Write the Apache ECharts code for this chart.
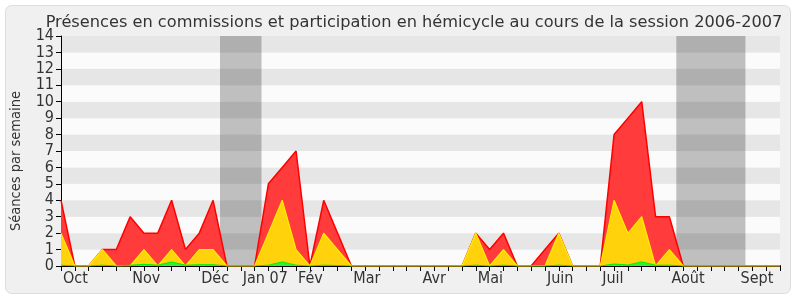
<!DOCTYPE html>
<html>
<head>
<meta charset="utf-8">
<script src="https://cdn.jsdelivr.net/npm/echarts@6/dist/echarts.min.js"></script>
<style>html,body{margin:0;padding:0;background:#fff;}#c{width:800px;height:300px;}</style>
</head>
<body>
<div id="c"></div>
<script>
// Week index along the session (0 = first week of October 2006)
var weeks = [];
for (var w = 0; w <= 52; w++) weeks.push(w);
// Month labels and the week index where each one is shown
var monthLabels = ['Oct', 'Nov', 'Déc', 'Jan 07', 'Fév', 'Mar', 'Avr', 'Mai', 'Juin', 'Juil', 'Août', 'Sept'];
var monthWeeks  = [0, 5, 10, 13, 17, 21, 26, 30, 35, 39, 44, 49];
// Séances per week
var redValues = [4,0,0,1,1,3,2,2,4,1,2,4,0,0,0,5,6,7,0,4,2,0,0,0,0,0,0,0,0,0,2,1,2,0,0,1,2,0,0,0,8,9,10,3,3,0,0,0,0,0,0,0,0];
var yellowValues = [2,0,0,1,0,0,1,0,1,0,1,1,0,0,0,2,4,1,0,2,1,0,0,0,0,0,0,0,0,0,2,0,1,0,0,0,2,0,0,0,4,2,3,0,1,0,0,0,0,0,0,0,0];
var greenValues = [0.05,0,0,0.05,0,0.05,0.1,0.05,0.25,0.05,0.08,0.08,0,0,0,0.05,0.25,0.05,0,0.05,0.03,0,0,0,0,0,0,0,0,0,0.05,0,0.05,0,0,0,0.05,0,0,0,0.12,0.06,0.25,0.05,0.05,0,0,0,0,0,0,0,0];
// Vacation periods (week index ranges)
var vacations = [[11.5, 14.5], [44.5, 49.5]];
// Y ticks
var yMin = 0, yMax = 14, yStep = 1;

function pairs(vals) { return weeks.map(function (w, i) { return [w, vals[i]]; }); }
var labelMap = {};
monthWeeks.forEach(function (w, i) { labelMap[w] = monthLabels[i]; });

var FONT = 'DejaVu Sans Condensed';
var chart = echarts.init(document.getElementById('c'), null, {renderer: 'canvas'});
chart.setOption({
  animation: false,
  backgroundColor: '#ffffff',
  graphic: [{
    type: 'rect', z: -10, silent: true,
    shape: {x: 5.5, y: 5.5, width: 785, height: 288, r: 6},
    style: {fill: '#f0f0f0', stroke: '#dddddd', lineWidth: 1}
  }],
  title: {
    text: 'Présences en commissions et participation en hémicycle au cours de la session 2006-2007',
    left: 409, top: 10, textAlign: 'center',
    textStyle: {fontFamily: 'DejaVu Sans', fontSize: 16.2, fontWeight: 'normal', color: '#333333'}
  },
  grid: {left: 61, right: 20, top: 36, bottom: 34, containLabel: false},
  xAxis: [{
    type: 'value', min: 0, max: 52, interval: 1,
    axisLine: {show: true, onZero: false, lineStyle: {color: '#000000', width: 1}},
    axisTick: {show: true, length: 5, lineStyle: {color: '#000000'}},
    axisLabel: {
      show: true, margin: 5, align: 'left', padding: [0, 0, 0, 2],
      fontFamily: FONT, fontSize: 16, color: '#333333',
      showMinLabel: true, showMaxLabel: true,
      formatter: function (v) { return labelMap[v] !== undefined ? labelMap[v] : ''; }
    },
    splitLine: {show: false}
  }, {
    type: 'value', position: 'top', min: 0, max: 52, interval: 1,
    axisLine: {show: false},
    axisTick: {show: true, length: 1, lineStyle: {color: '#444444'}},
    axisLabel: {show: false},
    splitLine: {show: false}
  }],
  yAxis: {
    type: 'value', min: yMin, max: yMax, interval: yStep,
    name: 'Séances par semaine', nameLocation: 'middle', nameGap: 37, nameRotate: 90,
    nameTextStyle: {fontFamily: FONT, fontSize: 14.5, color: '#333333', padding: [0, 20, 0, 0]},
    axisLine: {show: true, lineStyle: {color: '#000000'}},
    axisTick: {show: true, length: 5, lineStyle: {color: '#000000'}},
    axisLabel: {margin: 7, fontFamily: FONT, fontSize: 16, color: '#333333'},
    splitLine: {show: false},
    splitArea: {show: true, areaStyle: {color: ['#fbfbfb', '#e6e6e6']}}
  },
  series: [{
    name: 'Présences détectées', type: 'line', data: pairs(redValues),
    symbol: 'none', z: 2,
    lineStyle: {color: '#ff0000', width: 1.5},
    areaStyle: {color: '#ff3b3b', opacity: 1},
    markArea: {
      silent: true, z: 1,
      itemStyle: {color: 'rgba(0,0,0,0.24)'},
      data: vacations.map(function (v) { return [{xAxis: v[0], yAxis: yMin}, {xAxis: v[1], yAxis: yMax}]; })
    }
  }, {
    name: 'Présences en commission', type: 'line', data: pairs(yellowValues),
    symbol: 'none', z: 3,
    lineStyle: {color: '#ffee00', width: 1.2},
    areaStyle: {color: '#ffd20c', opacity: 1}
  }, {
    name: 'Participation en hémicycle', type: 'line', data: pairs(greenValues),
    symbol: 'none', z: 4,
    lineStyle: {color: '#00ee00', width: 1},
    areaStyle: {color: '#33ee33', opacity: 1}
  }]
});
</script>
</body>
</html>
